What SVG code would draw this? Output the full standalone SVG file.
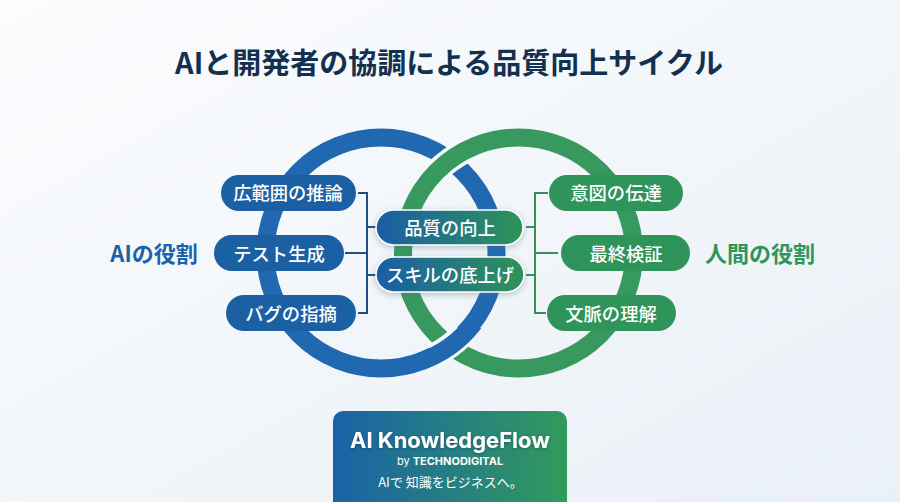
<svg xmlns="http://www.w3.org/2000/svg" width="900" height="502" viewBox="0 0 900 502">
<style>
text{font-family:"Noto Sans CJK JP","Noto Sans",sans-serif;text-anchor:middle}
.b{fill:#1c60a4}.g{fill:#2f9459}
.t{fill:#fff;font-size:18.300px;font-weight:500}
.rb{fill:none;stroke:#2069b1;stroke-width:18}
.rg{fill:none;stroke:#37995d;stroke-width:18}
.h{fill:none;stroke:#f6f9fb;stroke-width:25}
.cb{fill:none;stroke:#1f4f85;stroke-width:2}
.cg{fill:none;stroke:#37905a;stroke-width:2}
.c{fill:url(#mix);stroke:#fff;stroke-width:1.5;filter:url(#sh)}
</style>
<defs>
<linearGradient id="bg" x1="0" y1="0" x2="1" y2="1"><stop offset="0" stop-color="#fbfcfe"/><stop offset="1" stop-color="#e9f0f6"/></linearGradient>
<linearGradient id="mix" x1="0" y1="0" x2="1" y2="0"><stop offset="0" stop-color="#1a5ea6"/><stop offset="1" stop-color="#2f9359"/></linearGradient>
<linearGradient id="box" x1="0" y1="0" x2="1" y2="0"><stop offset="0" stop-color="#1a62a8"/><stop offset="1" stop-color="#329a5c"/></linearGradient>
<filter id="sh" x="-20%" y="-40%" width="140%" height="180%"><feDropShadow dx="0" dy="2" stdDeviation="3" flood-color="#5a6f85" flood-opacity=".4"/></filter>
<filter id="ts" x="-10%" y="-30%" width="120%" height="160%"><feDropShadow dx="0" dy="1" stdDeviation="1.5" flood-color="#0a2a40" flood-opacity=".4"/></filter>
</defs>
<rect width="900" height="502" fill="url(#bg)"/>
<text x="449" y="74" font-size="29" font-weight="700" fill="#14304f">AIと開発者の協調による品質向上サイクル</text>
<g id="rings">
<circle class="rb" cx="381" cy="253" r="115.500"/>
<path class="h" d="M436.500 171.500A115.500 115.500 0 0 1 466.800 150"/>
<circle class="rg" cx="518.500" cy="253" r="115.500"/>
<path class="h" d="M433.300 356A115.500 115.500 0 0 0 463.800 333.800"/>
<path class="rb" d="M421 361.300A115.500 115.500 0 0 0 474 323"/>
</g>
<g id="connectors">
<path class="cb" d="M358 193H367V313H358M345 253H367M367 227H376M367 275H376"/>
<path class="cg" d="M548 193H535V313H546M558 253H535M535 227H526M535 275H526"/>
</g>
<g id="node-a1"><rect class="b" x="221" y="175" width="135" height="36" rx="18"/><text class="t" x="288" y="200">広範囲の推論</text></g>
<g id="node-a2"><rect class="b" x="214" y="235" width="130" height="36" rx="18"/><text class="t" x="279" y="261">テスト生成</text></g>
<g id="node-a3"><rect class="b" x="226" y="295" width="130" height="36" rx="18"/><text class="t" x="291" y="321">バグの指摘</text></g>
<g id="node-h1"><rect class="g" x="549" y="175" width="134" height="36" rx="18"/><text class="t" x="616" y="200">意図の伝達</text></g>
<g id="node-h2"><rect class="g" x="561" y="235" width="129" height="36" rx="18"/><text class="t" x="626" y="261">最終検証</text></g>
<g id="node-h3"><rect class="g" x="547" y="295" width="129" height="36" rx="18"/><text class="t" x="611" y="321">文脈の理解</text></g>
<g id="node-c1"><rect class="c" x="376" y="210" width="147" height="35" rx="17.500"/><text class="t" x="450" y="235">品質の向上</text></g>
<g id="node-c2"><rect class="c" x="376" y="257" width="148" height="35" rx="17.500"/><text class="t" x="450" y="282">スキルの底上げ</text></g>
<g id="label-ai"><text x="154" y="262" font-size="22" font-weight="700" fill="#1c62a8">AIの役割</text></g>
<g id="label-human"><text x="760" y="262" font-size="22" font-weight="700" fill="#2f9459">人間の役割</text></g>
<g id="brand">
<rect x="333" y="411" width="234" height="101" rx="10" fill="url(#box)"/>
<text x="450" y="448" font-size="22" font-weight="700" fill="#fff" filter="url(#ts)" style="font-family:Inter,Roboto,sans-serif">AI KnowledgeFlow</text>
<text x="450" y="465" font-size="11" fill="#fff" style="font-family:Inter,Roboto,sans-serif">by <tspan font-weight="700">TECHNODIGITAL</tspan></text>
<text x="450.500" y="487" font-size="13" fill="#fff">AIで 知識をビジネスへ。</text>
</g>
</svg>
